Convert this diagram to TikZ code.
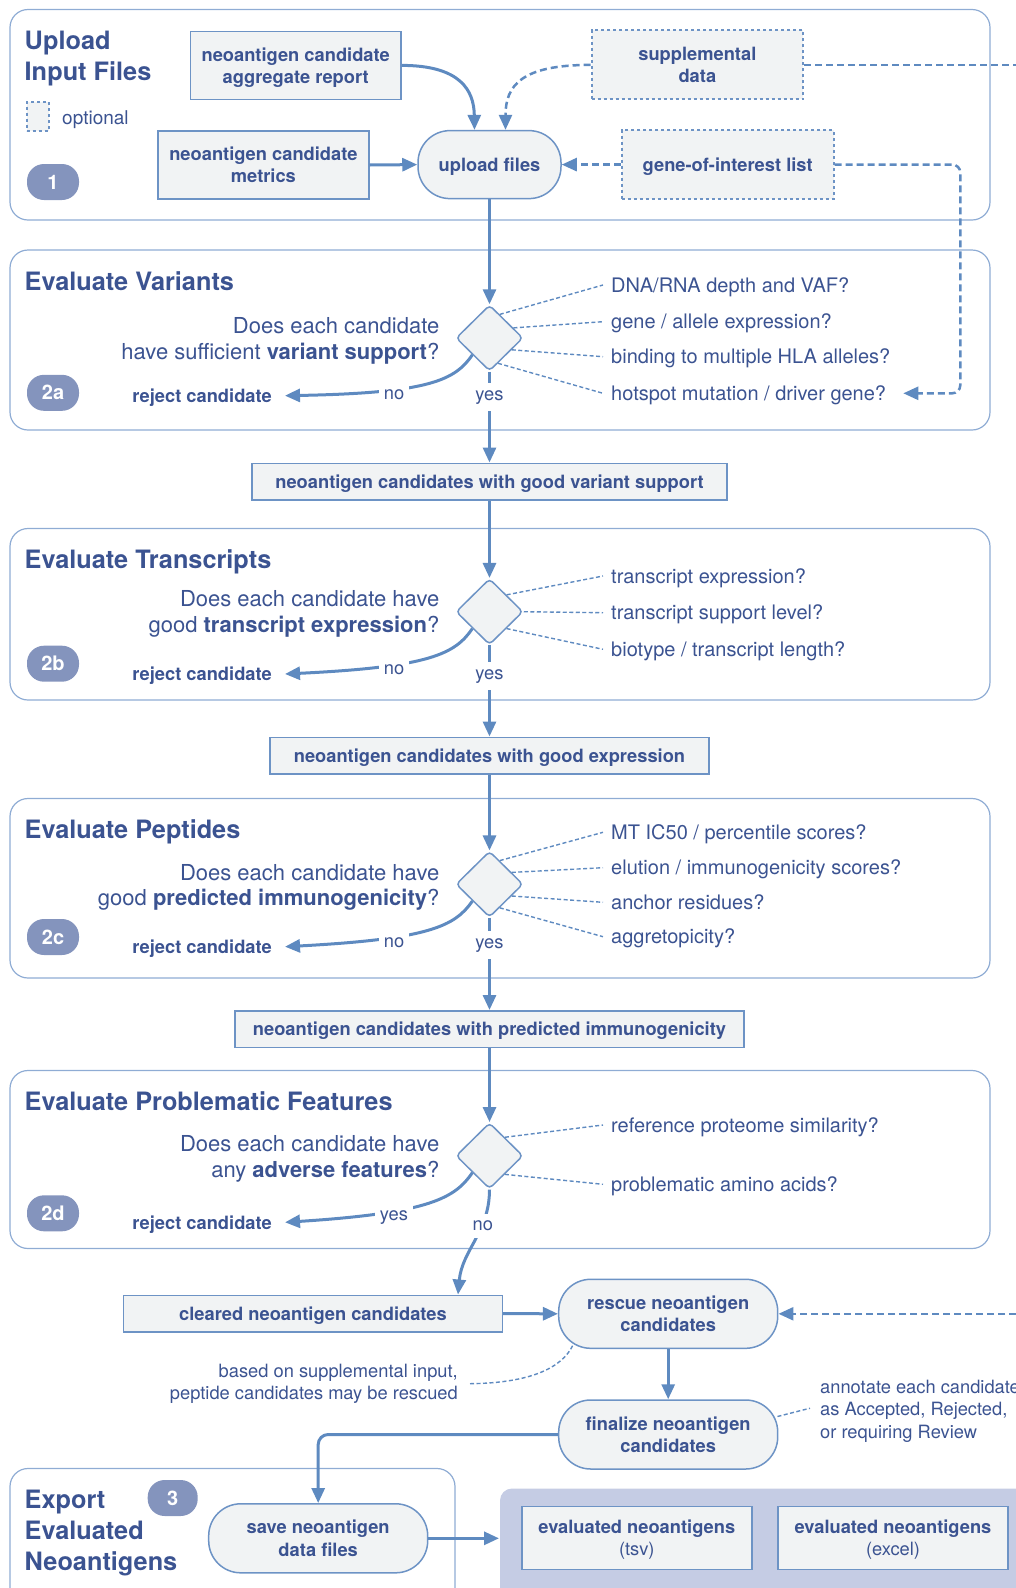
\documentclass[tikz,border=0pt]{standalone}
\usepackage{fontspec}
\setmainfont{TeX Gyre Heros}
\usetikzlibrary{shapes.geometric,arrows.meta,calc}
\definecolor{ink}{HTML}{3B5391}
\definecolor{flowc}{HTML}{5E8AC0}
\definecolor{secc}{HTML}{8FACD4}
\definecolor{boxc}{HTML}{6D93C5}
\definecolor{boxfill}{HTML}{F1F3F4}
\definecolor{badgec}{HTML}{8494BD}
\definecolor{panelc}{HTML}{C5CCE4}
\newcommand{\ttlfont}{\fontsize{25.3}{30.8}\selectfont\bfseries}
\newcommand{\bxfont}{\fontsize{18.3}{22.3}\selectfont\bfseries}
\newcommand{\qsfont}{\fontsize{22}{25.7}\selectfont}
\newcommand{\ntfont}{\fontsize{20}{24}\selectfont}
\newcommand{\smfont}{\fontsize{18.3}{22.5}\selectfont}

\begin{document}
\begin{tikzpicture}[x=1pt,y=-1pt,
    sect/.style={draw=secc,line width=1.2pt,rounded corners=18pt},
    file/.style={draw=boxc,fill=boxfill,line width=1.5pt,text=ink,font=\bxfont,align=center,
      inner sep=0pt,text depth=-2pt},
    optfile/.style={file,dash pattern=on 3pt off 3pt,line width=2pt},
    pill/.style={file,rounded corners=32pt},
    badge/.style={fill=badgec,text=white,rounded corners=17pt,minimum width=52pt,minimum height=36pt,
      inner sep=0pt,font=\fontsize{20}{20}\selectfont\bfseries},
    check/.style={diamond,draw=boxc,fill=boxfill,line width=1.5pt,rounded corners=4pt,
      minimum width=67pt,minimum height=66pt,inner sep=0pt},
    flow/.style={draw=flowc,line width=3pt,-{Triangle[length=15pt,width=13pt]}},
    optline/.style={draw=flowc,line width=2.5pt,dash pattern=on 7pt off 4pt},
    optflow/.style={optline,-{Triangle[length=15pt,width=13pt]}},
    hint/.style={draw=flowc,line width=1.4pt,dash pattern=on 4pt off 2.5pt},
    ttl/.style={text=ink,font=\ttlfont,align=left,inner sep=0pt},
    ask/.style={text=ink,font=\qsfont,align=right,inner sep=0pt,anchor=east},
    note/.style={text=ink,font=\ntfont,inner sep=0pt,anchor=west,text height=14.5pt,text depth=4.2pt},
    reject/.style={text=ink,font=\bxfont,inner sep=0pt,anchor=east},
    answer/.style={text=ink,font=\smfont,fill=white,inner xsep=5pt,inner ysep=7pt},
    remark/.style={text=ink,font=\smfont,inner sep=0pt}]
  \useasboundingbox (0,0) rectangle (1016,1588);
  \clip (0,0) rectangle (1016,1588);

  % upload input files
  \draw[sect] (10,9.5) rectangle (990,220);
  \node[ttl,anchor=west] (ttl1) at (24.5,58.4) {Upload\\Input Files};
  \node[optfile,minimum width=22pt,minimum height=29pt] (optkey) at (37.5,116) {};
  \node[remark,anchor=west,font=\fontsize{19}{22}\selectfont] (optlbl) at (62,119.5) {optional};
  \node[badge] (b1) at (53,182) {1};
  \node[file,minimum width=210.6pt,minimum height=68pt] (agg) at (295.7,65.4) {neoantigen candidate\\aggregate report};
  \node[file,minimum width=210.7pt,minimum height=68pt] (met) at (263.4,165) {neoantigen candidate\\metrics};
  \node[pill,minimum width=143pt,minimum height=68pt] (upl) at (489.5,164.6) {upload files};
  \node[optfile,minimum width=211.7pt,minimum height=69pt] (supp) at (697.4,64.9) {supplemental\\data};
  \node[optfile,minimum width=211.6pt,minimum height=69pt] (goi) at (727.7,164.6) {gene-of-interest list};
  \coordinate (suppout) at (1016,64.9);
  \draw[flow] (agg.east) .. controls (460,65.4) and (474,90) .. ([xshift=-15pt]upl.north);
  \draw[optflow] (supp.west) .. controls (522,64.9) and (505.5,85) .. ([xshift=16pt]upl.north);
  \draw[flow] (met.east) -- (upl.west);
  \draw[optflow] (goi.west) -- (upl.east);
  \draw[optline] (supp.east) -- (suppout);

  % evaluate variants
  \draw[sect] (10,250) rectangle (990,430);
  \node[ttl,anchor=base west] (ttl2a) at (24.5,290) {Evaluate Variants};
  \node[check] (d2a) at (489.5,338) {};
  \node[ask] (q2a) at (439.5,340.6) {Does each candidate\\have sufficient \textbf{variant support}?};
  \node[badge] (b2a) at (53,392.8) {2a};
  \node[reject] (rej2a) at (272,397.7) {reject candidate};
  \node[note] (n2a1) at (611,287) {DNA/RNA depth and VAF?};
  \node[note] (n2a2) at (611,323.7) {gene / allele expression?};
  \node[note] (n2a3) at (611,358.7) {binding to multiple HLA alleles?};
  \node[note] (n2a4) at (611,395.3) {hotspot mutation / driver gene?};
  \draw[hint] ($(d2a.north)!0.3!(d2a.east)$) -- ([xshift=-8pt,yshift=2pt]n2a1.west);
  \draw[hint] ($(d2a.north)!0.7!(d2a.east)$) -- ([xshift=-8pt,yshift=2pt]n2a2.west);
  \draw[hint] ($(d2a.east)!0.35!(d2a.south)$) -- ([xshift=-8pt,yshift=2pt]n2a3.west);
  \draw[hint] ($(d2a.east)!0.75!(d2a.south)$) -- ([xshift=-8pt,yshift=2pt]n2a4.west);
  \draw[optflow,rounded corners=8pt] (goi.east) -| ([xshift=74pt,yshift=2pt]n2a4.east) -- ([xshift=17pt,yshift=2pt]n2a4.east);
  \node[file,minimum width=475pt,minimum height=36.5pt] (gv) at (489.5,481.5) {neoantigen candidates with good variant support};
  \draw[flow] (upl.south) -- (d2a.north);
  \draw[flow] (d2a.south west) .. controls (455,380) and (430,393) .. ([xshift=13pt,yshift=2pt]rej2a.east);
  \draw[flow] (d2a.south) -- (gv.north);
  \node[answer] (no2a) at (394,394.3) {no};
  \node[answer] (yes2a) at (489.5,397.3) {yes};

  % evaluate transcripts
  \draw[sect] (10,528.5) rectangle (990,700);
  \node[ttl,anchor=base west] (ttl2b) at (24.5,568.5) {Evaluate Transcripts};
  \node[check] (d2b) at (489.5,611.7) {};
  \node[ask] (q2b) at (439.5,614) {Does each candidate have\\good \textbf{transcript expression}?};
  \node[badge] (b2b) at (53,663.7) {2b};
  \node[reject] (rej2b) at (272,676) {reject candidate};
  \node[note] (n2b1) at (611,578) {transcript expression?};
  \node[note] (n2b2) at (611,614.7) {transcript support level?};
  \node[note] (n2b3) at (611,651.3) {biotype / transcript length?};
  \draw[hint] ($(d2b.north)!0.5!(d2b.east)$) -- ([xshift=-8pt,yshift=2pt]n2b1.west);
  \draw[hint] (d2b.east) -- ([xshift=-8pt,yshift=2pt]n2b2.west);
  \draw[hint] ($(d2b.east)!0.5!(d2b.south)$) -- ([xshift=-8pt,yshift=2pt]n2b3.west);
  \node[file,minimum width=438.6pt,minimum height=36.5pt] (ge) at (489.5,755.5) {neoantigen candidates with good expression};
  \draw[flow] (gv.south) -- (d2b.north);
  \draw[flow] (d2b.south west) .. controls (455,654) and (430,667) .. ([xshift=13pt,yshift=2pt]rej2b.east);
  \draw[flow] (d2b.south) -- (ge.north);
  \node[answer] (no2b) at (394,669.3) {no};
  \node[answer] (yes2b) at (489.5,676.3) {yes};

  % evaluate peptides
  \draw[sect] (10,798.5) rectangle (990,978);
  \node[ttl,anchor=base west] (ttl2c) at (24.5,838.5) {Evaluate Peptides};
  \node[check] (d2c) at (489.5,884.2) {};
  \node[ask] (q2c) at (439.5,887.4) {Does each candidate have\\good \textbf{predicted immunogenicity}?};
  \node[badge] (b2c) at (53,937) {2c};
  \node[reject] (rej2c) at (272,948.7) {reject candidate};
  \node[note] (n2c1) at (611,834.3) {MT IC50 / percentile scores?};
  \node[note] (n2c2) at (611,869.7) {elution / immunogenicity scores?};
  \node[note] (n2c3) at (611,904.3) {anchor residues?};
  \node[note] (n2c4) at (611,938.7) {aggretopicity?};
  \draw[hint] ($(d2c.north)!0.3!(d2c.east)$) -- ([xshift=-8pt,yshift=2pt]n2c1.west);
  \draw[hint] ($(d2c.north)!0.65!(d2c.east)$) -- ([xshift=-8pt,yshift=2pt]n2c2.west);
  \draw[hint] ($(d2c.east)!0.35!(d2c.south)$) -- ([xshift=-8pt,yshift=2pt]n2c3.west);
  \draw[hint] ($(d2c.east)!0.7!(d2c.south)$) -- ([xshift=-8pt,yshift=2pt]n2c4.west);
  \node[file,minimum width=509.4pt,minimum height=36.5pt] (pim) at (489.5,1029) {neoantigen candidates with predicted immunogenicity};
  \draw[flow] (ge.south) -- (d2c.north);
  \draw[flow] (d2c.south west) .. controls (455,926) and (430,939) .. ([xshift=13pt,yshift=2pt]rej2c.east);
  \draw[flow] (d2c.south) -- (pim.north);
  \node[answer] (no2c) at (394,942.3) {no};
  \node[answer] (yes2c) at (489.5,945.3) {yes};

  % evaluate problematic features
  \draw[sect] (10,1070.5) rectangle (990,1248.5);
  \node[ttl,anchor=base west] (ttl2d) at (24.5,1110.5) {Evaluate Problematic Features};
  \node[check] (d2d) at (489.5,1155.8) {};
  \node[ask] (q2d) at (439.5,1158.9) {Does each candidate have\\any \textbf{adverse features}?};
  \node[badge] (b2d) at (53,1213.3) {2d};
  \node[reject] (rej2d) at (272,1224.3) {reject candidate};
  \node[note] (n2d1) at (611,1127) {reference proteome similarity?};
  \node[note] (n2d2) at (611,1186.3) {problematic amino acids?};
  \draw[hint] ($(d2d.north)!0.45!(d2d.east)$) -- ([xshift=-8pt,yshift=2pt]n2d1.west);
  \draw[hint] ($(d2d.east)!0.55!(d2d.south)$) -- ([xshift=-8pt,yshift=2pt]n2d2.west);
  \node[file,minimum width=378.7pt,minimum height=36.7pt] (clr) at (313,1313.6) {cleared neoantigen candidates};
  \draw[flow] (pim.south) -- (d2d.north);
  \draw[flow] (d2d.south west) .. controls (455,1198) and (430,1213) .. ([xshift=13pt,yshift=2pt]rej2d.east);
  \draw[flow] (d2d.south) .. controls (489.5,1232) and (462,1250) .. ([xshift=145pt]clr.north);
  \node[answer] (yes2d) at (394,1218) {yes};
  \node[answer] (no2d) at (482.8,1225.7) {no};

  % rescue and finalize
  \node[pill,minimum width=219pt,minimum height=69pt] (resc) at (668.2,1313.8) {rescue neoantigen\\candidates};
  \node[pill,minimum width=219pt,minimum height=69pt] (fin) at (668.2,1434.5) {finalize neoantigen\\candidates};
  \node[remark,anchor=east,align=right] (rescnote) at (458,1383.7) {based on supplemental input,\\peptide candidates may be rescued};
  \node[remark,anchor=west,align=left] (finnote) at (820,1411.2) {annotate each candidate\\as Accepted, Rejected,\\or requiring Review};
  \coordinate (rescin) at (1016,1313.8);
  \draw[flow] (clr.east) -- (resc.west);
  \draw[flow] (resc.south) -- (fin.north);
  \draw[optflow] (rescin) -- (resc.east);
  \draw[hint] ([xshift=12pt]rescnote.east) .. controls (530,1383) and (562,1368) .. ([xshift=15pt,yshift=4pt]resc.south west);
  \draw[hint] ([xshift=-1pt,yshift=18pt]fin.east) -- ([xshift=-10pt,yshift=3pt]finnote.west);

  % export evaluated neoantigens
  \draw[sect] (10,1468.5) rectangle (455,1630);
  \node[ttl,anchor=west] (ttl3) at (24.5,1533.3) {Export\\Evaluated\\Neoantigens};
  \node[badge,minimum width=50pt] (b3) at (172.7,1498) {3};
  \node[pill,minimum width=219pt,minimum height=69pt] (save) at (318.2,1538.3) {save neoantigen\\data files};
  \fill[panelc,rounded corners=12pt] (500,1488.5) rectangle (1040,1630);
  \coordinate (outin) at (499,1538.3);
  \node[file,minimum width=230pt,minimum height=62.6pt] (tsv) at (636.8,1538) {evaluated neoantigens\\{\mdseries (tsv)}};
  \node[file,minimum width=230pt,minimum height=62.6pt] (xls) at (893,1538) {evaluated neoantigens\\{\mdseries (excel)}};
  \draw[flow,rounded corners=10pt] (fin.west) -| (save.north);
  \draw[flow] (save.east) -- (outin);
\end{tikzpicture}
\end{document}
